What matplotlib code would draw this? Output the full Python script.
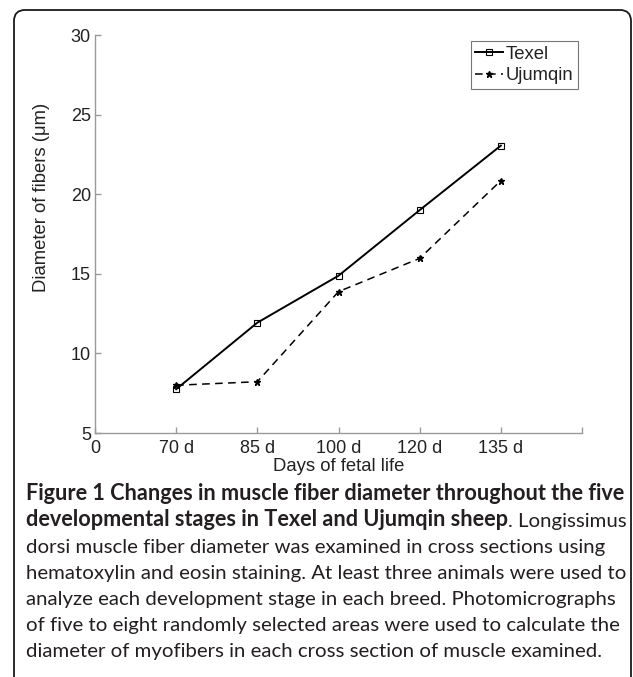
import matplotlib
matplotlib.use("Agg")
import matplotlib.pyplot as plt
from matplotlib.patches import FancyBboxPatch
from matplotlib.transforms import IdentityTransform

# --- data ---
stages = ["70 d", "85 d", "100 d", "120 d", "135 d"]
texel = [7.75, 11.93, 14.88, 19.0, 23.05]
ujumqin = [8.0, 8.22, 13.88, 15.97, 20.85]
yticks = [5, 10, 15, 20, 25, 30]

caption_bold_1 = "Figure 1 Changes in muscle fiber diameter throughout the five"
caption_bold_2 = "developmental stages in Texel and Ujumqin sheep"
caption_rest_2 = ". Longissimus"
caption_lines = [
    "dorsi muscle fiber diameter was examined in cross sections using",
    "hematoxylin and eosin staining. At least three animals were used to",
    "analyze each development stage in each breed. Photomicrographs",
    "of five to eight randomly selected areas were used to calculate the",
    "diameter of myofibers in each cross section of muscle examined.",
]

W, H = 633, 677
AXIS_GREY = "#9a9a9a"
TEXT_COL = "#222222"
plt.rcParams["font.family"] = ["Liberation Sans", "DejaVu Sans"]

fig = plt.figure(figsize=(W / 100, H / 100), dpi=100)
ax = fig.add_axes([95 / W, 1 - 433 / H, 487 / W, 398 / H])

# --- the two series ---
xs = list(range(1, len(stages) + 1))
ax.plot(xs, texel, color="black", lw=1.4, marker="s", ms=4.5,
        mfc="none", mec="black", mew=0.8, label="Texel")
ax.plot(xs, ujumqin, color="black", lw=1.1, ls=(0, (5, 3.5)), marker="*",
        ms=5, mfc="black", mec="black", label="Ujumqin")

ax.set_xlim(0, 6)
ax.set_ylim(5, 30)
ax.set_xticks(range(0, 7))
ax.set_xticklabels(["0"] + stages + [""])
ax.set_yticks(yticks)

for side in ("top", "right"):
    ax.spines[side].set_visible(False)
for side in ("left", "bottom"):
    ax.spines[side].set_color(AXIS_GREY)
    ax.spines[side].set_linewidth(1.0)
ax.tick_params(direction="in", length=4, width=1.0, color=AXIS_GREY,
               labelsize=13, labelcolor=TEXT_COL)
ax.tick_params(axis="x", pad=5)
ax.tick_params(axis="y", pad=3)

ax.set_xlabel("Days of fetal life", fontsize=13.3, color=TEXT_COL, labelpad=1)
ax.set_ylabel("Diameter of fibers (\u03bcm)", fontsize=13.3, color=TEXT_COL)
ax.yaxis.set_label_coords(-0.092, 0.593)

leg = ax.legend(loc="upper right", bbox_to_anchor=(0.992, 0.985),
                borderaxespad=0, fontsize=13.3, handlelength=1.5,
                handletextpad=0.15, labelspacing=0.25, borderpad=0.25,
                fancybox=False, framealpha=1)
leg.get_frame().set_edgecolor("#777777")
leg.get_frame().set_linewidth(0.8)
for t in leg.get_texts():
    t.set_color(TEXT_COL)

# --- rounded frame round the whole figure (pixel coords) ---
frame = FancyBboxPatch((14, -30), 631 - 14, (H - 10) + 30,
                       boxstyle="round,pad=0,rounding_size=11",
                       transform=IdentityTransform(), fill=False,
                       edgecolor="#1a1a1a", linewidth=1.3)
fig.patches.append(frame)

# --- caption ---
cap_font = ["Lato", "DejaVu Sans"]
cap_col = "#231f20"
cap_x = 26 / W
line_y = [494, 520, 547, 573, 599, 626, 652]
renderer = fig.canvas.get_renderer()


def fit_size(text, weight, target_px):
    probe = fig.text(0, 0, text, family=cap_font, weight=weight, fontsize=14)
    w = probe.get_window_extent(renderer).width
    probe.remove()
    return 14 * target_px / w


bold_size = fit_size(caption_bold_1, "bold", 601)
reg_size = fit_size(caption_lines[1], "normal", 601)

fig.text(cap_x, 1 - line_y[0] / H, caption_bold_1, family=cap_font,
         weight="bold", fontsize=bold_size, color=cap_col, va="center")
second = fig.text(cap_x, 1 - line_y[1] / H, caption_bold_2, family=cap_font,
                  weight="bold", fontsize=bold_size, color=cap_col,
                  va="center")
fig.canvas.draw()
ax.annotate(caption_rest_2, xy=(1, 0), xycoords=second, va="bottom",
            ha="left", family=cap_font, fontsize=reg_size, color=cap_col,
            annotation_clip=False)

for y, line in zip(line_y[2:], caption_lines):
    fig.text(cap_x, 1 - y / H, line, family=cap_font, fontsize=reg_size,
             color=cap_col, va="center")

fig.savefig("out.png", dpi=100)
